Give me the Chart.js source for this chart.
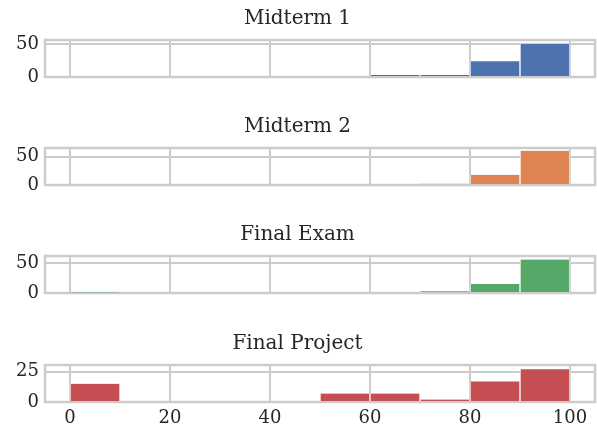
<!DOCTYPE html>
<html lang="en">
<head>
<meta charset="utf-8">
<title>Score histograms</title>
<script src="https://cdn.jsdelivr.net/npm/chart.js@4.4.1/dist/chart.umd.min.js"></script>
<style>
  html, body { margin: 0; padding: 0; background: #fff; }
  #wrap { position: relative; width: 597px; height: 430px; }
  .panel { position: absolute; left: 0; width: 597px; }
</style>
</head>
<body>
<div id="wrap">
  <div class="panel" style="top:0px;height:108px"><canvas id="c0"></canvas></div>
  <div class="panel" style="top:108px;height:108px"><canvas id="c1"></canvas></div>
  <div class="panel" style="top:216px;height:108px"><canvas id="c2"></canvas></div>
  <div class="panel" style="top:324px;height:106px"><canvas id="c3"></canvas></div>
</div>
<script>
// bin centres of the 10-point histogram bins
const binCenters = [5, 15, 25, 35, 45, 55, 65, 75, 85, 95];

const titles = ['Midterm 1', 'Midterm 2', 'Final Exam', 'Final Project'];

// counts per bin
const midterm1 = [0, 0, 0, 0, 0, 0, 3, 3, 24, 50];
const midterm2 = [0, 0, 0, 0, 0, 0, 0, 2, 18, 60];
const finalExam = [1, 0, 0, 0, 0, 0, 0, 3, 15, 56];
const finalProject = [15, 0, 0, 0, 0, 7, 7, 2, 17, 27];

const xTicks = [0, 20, 40, 60, 80, 100];
const yTicks50 = [0, 50];
const yTicks25 = [0, 25];
const yMaxes = [56, 65, 62, 30.5];

const colors = ['#4C72B0', '#DD8452', '#55A868', '#C44E52'];
const series = [midterm1, midterm2, finalExam, finalProject];
const yTickSets = [yTicks50, yTicks50, yTicks50, yTicks25];

const textColor = '#262626';
const gridColor = '#cccccc';
const font = { family: '"DejaVu Serif", serif', size: 18 };

// light grey box round the plot area, like the seaborn whitegrid spines
// (drawn under the bars so the tiny bins still show)
const framePlugin = {
  id: 'frame',
  beforeDatasetsDraw(chart) {
    const a = chart.chartArea, ctx = chart.ctx;
    ctx.save();
    ctx.strokeStyle = gridColor;
    ctx.lineWidth = 2.5;
    ctx.strokeRect(a.left, a.top, a.right - a.left, a.bottom - a.top);
    ctx.restore();
  }
};

function makeChart(i) {
  const last = i === 3;
  const ctx = document.getElementById('c' + i).getContext('2d');
  return new Chart(ctx, {
    type: 'bar',
    data: {
      datasets: [{
        data: binCenters.map((x, k) => ({ x: x, y: series[i][k] })),
        backgroundColor: colors[i],
        borderColor: '#ffffff',
        borderWidth: { top: 0, left: 1, right: 1, bottom: 0 },
        borderSkipped: false,
        barPercentage: 1,
        categoryPercentage: 1
      }]
    },
    plugins: [framePlugin],
    options: {
      responsive: true,
      maintainAspectRatio: false,
      animation: false,
      layout: { padding: { left: 0, right: 2, top: 0, bottom: 0 } },
      plugins: {
        legend: { display: false },
        tooltip: { enabled: false },
        title: {
          display: true,
          text: titles[i],
          color: textColor,
          font: { family: font.family, size: 20, weight: 'normal' },
          padding: { top: last ? 8 : 7, bottom: 9 }
        }
      },
      scales: {
        x: {
          type: 'linear',
          offset: false,
          min: -5,
          max: 105,
          afterBuildTicks: s => { s.ticks = xTicks.map(v => ({ value: v })); },
          afterFit: s => { s.height = last ? 28 : 31; },
          grid: { color: gridColor, lineWidth: 2, drawTicks: false, offset: false },
          border: { display: false },
          ticks: {
            display: last,
            color: textColor,
            font: font,
            padding: 6,
            maxRotation: 0
          }
        },
        y: {
          min: 0,
          max: yMaxes[i],
          afterBuildTicks: s => { s.ticks = yTickSets[i].map(v => ({ value: v })); },
          afterFit: s => { s.width = 45; },
          grid: { color: gridColor, lineWidth: 2, drawTicks: false },
          border: { display: false },
          ticks: { color: textColor, font: font, padding: 6 }
        }
      }
    }
  });
}

for (let i = 0; i < 4; i++) makeChart(i);
</script>
</body>
</html>
